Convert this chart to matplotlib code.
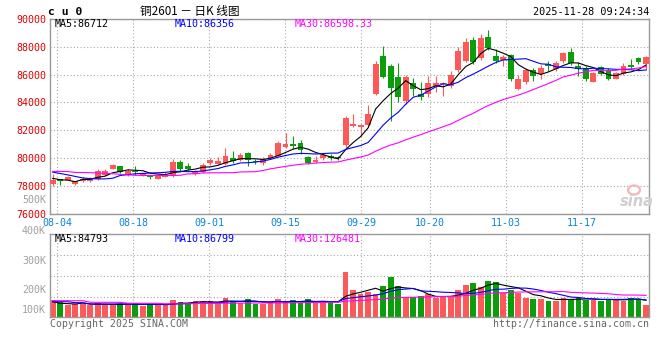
import matplotlib
matplotlib.use("Agg")
import matplotlib.pyplot as plt
from matplotlib.patches import Ellipse
import numpy as np
import pandas as pd

plt.rcParams['font.family'] = ['DejaVu Sans Mono']

# ---------------- data ----------------
dates = ['08-01',
         '08-04', '08-05', '08-06', '08-07', '08-08', '08-11', '08-12', '08-13', '08-14', '08-15',
         '08-18', '08-19', '08-20', '08-21', '08-22', '08-25', '08-26', '08-27', '08-28', '08-29',
         '09-01', '09-02', '09-03', '09-04', '09-05', '09-08', '09-09', '09-10', '09-11', '09-12',
         '09-15', '09-16', '09-17', '09-18', '09-19', '09-22', '09-23', '09-24', '09-25', '09-26',
         '09-29', '09-30', '10-09', '10-10', '10-13', '10-14', '10-15', '10-16', '10-17',
         '10-20', '10-21', '10-22', '10-23', '10-24', '10-27', '10-28', '10-29', '10-30', '10-31',
         '11-03', '11-04', '11-05', '11-06', '11-07', '11-10', '11-11', '11-12', '11-13', '11-14',
         '11-17', '11-18', '11-19', '11-20', '11-21', '11-24', '11-25', '11-26', '11-27', '11-28']

opens = [78145, 78480, 78434, 78145, 78313, 78313, 78506, 78747, 79229, 79398,
         78747, 79060, 78747, 78723, 78506, 78627, 78675, 79690, 79405, 78858,
         78977, 79643, 79595, 79595, 80000, 79881, 80357, 79740, 79643, 80000,
         80167, 80762, 80988, 81059, 80047, 79694, 80000, 80165, 80071, 80941,
         82282, 82235, 82353, 84588, 87365, 86588, 85812, 84071, 85412, 84588,
         84635, 85176, 85294, 85176, 86353, 86941, 88518, 87176, 88706, 87341,
         87059, 87412, 84988, 85459, 86353, 86047, 86753, 86400, 87012, 87647,
         86588, 86470, 85482, 86518, 86353, 85694, 86070, 86706, 87176, 86753]
highs = [78868, 78500, 78680, 78340, 78650, 78650, 79205, 79180, 79590, 79398,
         79205, 79398, 78940, 78740, 78700, 78964, 79955, 79881, 79643, 79167,
         79643, 80000, 80071, 80714, 80476, 80357, 80405, 79929, 80048, 80357,
         81190, 81786, 81576, 81294, 80165, 80118, 80353, 80282, 80165, 83000,
         83129, 82470, 83835, 86941, 88071, 86753, 86824, 85953, 85765, 85459,
         85929, 85929, 85450, 86235, 88000, 88635, 88706, 88941, 89224, 87812,
         87412, 87459, 86000, 86470, 86470, 86706, 87012, 87012, 87647, 87882,
         86870, 86635, 86165, 86635, 86470, 86165, 86823, 87106, 87294, 87341]
lows = [77952, 78020, 78410, 78050, 78290, 78290, 78385, 78700, 79180, 78940,
        78675, 78795, 78720, 78458, 78460, 78600, 78650, 79048, 79167, 78738,
        78929, 79524, 79524, 79524, 79643, 79762, 79452, 79595, 79524, 79929,
        80119, 80714, 80635, 80306, 79529, 79600, 79882, 79835, 79835, 80706,
        82235, 81576, 82282, 84541, 85718, 82659, 84000, 83882, 84471, 84188,
        84353, 84753, 84471, 85059, 86165, 86870, 86776, 87059, 87765, 86823,
        86635, 85529, 84894, 85294, 85529, 85694, 86282, 86235, 86823, 86706,
        85929, 85529, 85459, 86000, 85576, 85647, 86000, 86400, 86776, 86353]
closes = [78434, 78360, 78651, 78310, 78506, 78480, 79085, 79085, 79518, 78964,
          79036, 78964, 78916, 78603, 78675, 78795, 79711, 79215, 79215, 79048,
          79476, 79833, 79762, 80167, 79762, 80190, 79881, 79690, 79929, 80238,
          81071, 81024, 80894, 80588, 79600, 79882, 80235, 80000, 79976, 82850,
          82471, 82400, 83129, 86753, 85835, 85059, 84353, 85812, 84988, 84353,
          85412, 85412, 85412, 86000, 87718, 88353, 86870, 88635, 87882, 86988,
          87294, 85694, 85694, 86306, 85882, 86470, 86588, 86823, 87529, 86823,
          86400, 85647, 86118, 86070, 85647, 86118, 86588, 86541, 86894, 87294]
volumes = [86000, 75000, 61000, 66000, 66000, 61000, 70000, 61000, 61000, 66000,
           70000, 70000, 56000, 66000, 61000, 61000, 86000, 76000, 70000, 81000,
           76000, 81000, 70000, 96000, 81000, 70000, 91000, 66000, 66000, 76000,
           91000, 70000, 86000, 70000, 91000, 76000, 76000, 76000, 66000, 227000,
           136000, 116000, 128000, 114000, 156000, 200000, 156000, 103000, 99000, 106000,
           114000, 98000, 99000, 103000, 136000, 161000, 172000, 151000, 181000, 177000,
           119000, 136000, 119000, 98000, 91000, 91000, 81000, 83000, 98000, 91000,
           98000, 86000, 86000, 83000, 91000, 91000, 83000, 98000, 91000, 61000]

# moving-average values at the left edge (their windows start before the chart)
ma5_early = [78530, 78430, 78400, 78290]
ma10_early = [78980, 78880, 78780, 78670, 78560, 78510, 78490, 78490, 78540]
ma30_early = [79030, 79030, 79020, 78960, 78950, 78940, 78910, 78900, 78860, 78820,
              78780, 78750, 78740, 78735, 78735, 78735, 78740, 78750, 78850, 78860,
              78920, 78930, 78930, 78935, 78940, 78990, 79000, 79010, 79095]
vol_ma5_early = [77600, 69600, 68000, 66000]
vol_ma10_early = [77600, 77600, 77400, 72600, 72400, 66200, 66000, 66000, 66100]
vol_ma30_early = [82500, 82500, 82400, 82300, 82200, 74800, 74600, 74500, 74500, 74400,
                  70000, 69800, 69600, 69600, 69500, 67000, 66800, 66800, 67200, 68500,
                  69000, 69500, 69800, 70000, 70200, 70500, 70800, 71000, 71200]

date_labels = ['08-04', '08-18', '09-01', '09-15', '09-29', '10-20', '11-03', '11-17']
price_ticks = [76000, 78000, 80000, 82000, 84000, 86000, 88000, 90000]
vol_labels = ['500K', '400K', '300K', '200K', '100K']

title_text = '铜2601 － 日K 线图'
symbol_text = 'c u 0'
time_text = '2025-11-28 09:24:34'
price_ma_texts = ['MA5:86712', 'MA10:86356', 'MA30:86598.33']
vol_ma_texts = ['MA5:84793', 'MA10:86799', 'MA30:126481']

# ---------------- styling ----------------
RED = '#ff5858'
GREEN = '#0a9e0a'
MA_COLORS = ['#000000', '#0000ff', '#ff00ff']
GRID = '#a8a8a8'
BORDER = '#999999'

W, H = 660, 360
def fx(px):
    return px / W
def fy(py):
    return 1 - py / H

fig = plt.figure(figsize=(6.6, 3.6), dpi=100)
ax = fig.add_axes([fx(50), fy(213.5), fx(649) - fx(50), fy(19) - fy(213.5)])
axv = fig.add_axes([fx(50), fy(317.3), fx(649) - fx(50), fy(234.3) - fy(317.3)], sharex=ax)

x = np.arange(len(closes))
o = np.array(opens, float)
c = np.array(closes, float)
h = np.array(highs, float)
l = np.array(lows, float)
v = np.array(volumes, float)
cols = np.where(c >= o, RED, GREEN)


def moving(series, n, early):
    m = pd.Series(series).rolling(n).mean().to_numpy()
    m[:len(early)] = early
    return m


# price candles
ax.vlines(x, l, h, colors=cols, linewidth=0.8, zorder=2)
ax.bar(x, np.maximum(np.abs(c - o), 60), bottom=np.minimum(o, c), width=0.78,
       color=cols, linewidth=0, zorder=3)
for n, early, col in zip([5, 10, 30], [ma5_early, ma10_early, ma30_early], MA_COLORS):
    ax.plot(x, moving(c, n, early), color=col, linewidth=0.8, zorder=4)

# volume bars
axv.bar(x, v, width=0.76, color=cols, linewidth=0, zorder=2)
for n, early, col in zip([5, 10, 30], [vol_ma5_early, vol_ma10_early, vol_ma30_early], MA_COLORS):
    axv.plot(x, moving(v, n, early), color=col, linewidth=0.8, zorder=4)

# axes limits
ax.set_xlim(-0.36, 79.4)
ax.set_ylim(76000, 90000)
vtop = 412500
axv.set_ylim(0, vtop)

# date gridline positions (sina spaces its date grid slightly wider than the candles)
date_idx = [dates.index(d) for d in date_labels]
grid_x = [(4.6 + 7.6 * (i - 1)) / 7.51 for i in date_idx]

ax.set_xticks(grid_x)
ax.set_xticklabels(date_labels, color='#0a84d6', fontsize=7.2)
ax.set_yticks(price_ticks)
ax.set_yticklabels([str(t) for t in price_ticks], color='#e00000', fontsize=7.2)
ax.tick_params(axis='both', length=0)
ax.tick_params(axis='x', pad=3.2)
ax.tick_params(axis='y', pad=2.6)
ax.grid(True, linestyle=(0, (1, 2)), color=GRID, linewidth=0.8, zorder=0)
ax.set_axisbelow(True)

axv.set_yticks([vtop * 0.25, vtop * 0.5, vtop * 0.75])
axv.tick_params(axis='both', length=0, labelleft=False, labelbottom=False)
axv.grid(True, linestyle=(0, (1, 2)), color=GRID, linewidth=0.8, zorder=0)
axv.set_axisbelow(True)

for a in (ax, axv):
    for s in a.spines.values():
        s.set_color(BORDER)
        s.set_linewidth(1.0)

# volume labels (sina places them at fixed spots)
for lab, py in zip(vol_labels, [200, 230.7, 261, 290, 310]):
    fig.text(fx(46), fy(py), lab, ha='right', va='center', color='#a0a0a0', fontsize=7.2)

# header texts
fig.text(fx(48.5), fy(12), symbol_text, ha='left', va='center', fontsize=8.2,
         fontweight='bold', color='black')
fig.text(fx(140), fy(11), title_text, ha='left', va='center', fontsize=8.4,
         family=['Noto Sans CJK SC', 'DejaVu Sans'], color='black')
fig.text(fx(649), fy(12), time_text, ha='right', va='center', fontsize=7.3, color='black')

for t, px, col in zip(price_ma_texts, [55, 175, 295], MA_COLORS):
    fig.text(fx(px), fy(24), t, ha='left', va='center', fontsize=7.2, color=col)
for t, px, col in zip(vol_ma_texts, [55, 175, 295], MA_COLORS):
    fig.text(fx(px), fy(238.5), t, ha='left', va='center', fontsize=7.2, color=col)

fig.text(fx(50), fy(324), 'Copyright 2025 SINA.COM', ha='left', va='center',
         fontsize=7.1, color='#666666')
fig.text(fx(649), fy(324), 'http://finance.sina.com.cn', ha='right', va='center',
         fontsize=7.1, color='#666666')

# sina watermark
fig.text(fx(637), fy(202), 'sina', ha='center', va='center', fontsize=10.5,
         fontstyle='italic', fontweight='bold', family=['DejaVu Sans'], color='#cfcfcf')
fig.add_artist(Ellipse((fx(634), fy(190)), 12 / W, 9 / H, transform=fig.transFigure,
                       fill=False, edgecolor='#f2b8b8', linewidth=1.6))

fig.savefig('out.png', dpi=100)
